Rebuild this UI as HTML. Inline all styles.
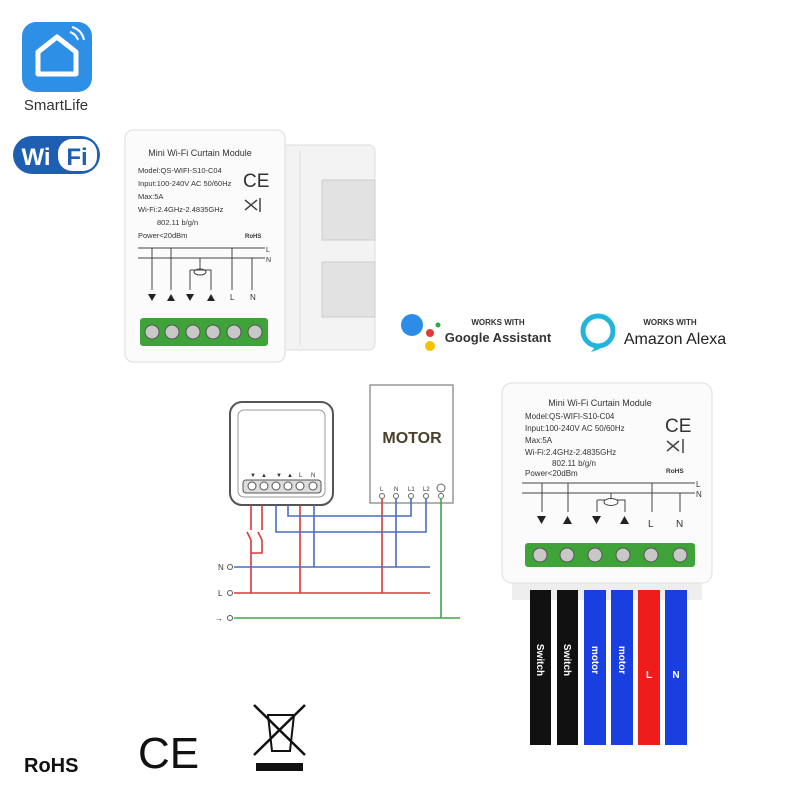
<!DOCTYPE html>
<html><head><meta charset="utf-8"><style>
html,body{margin:0;padding:0;background:#fff;}
svg{display:block;font-family:"Liberation Sans",sans-serif;}
</style></head><body>
<svg width="800" height="800" viewBox="0 0 800 800" xmlns="http://www.w3.org/2000/svg">
<rect width="800" height="800" fill="#fff"/>
<!-- SmartLife -->
<rect x="22" y="22" width="70" height="70" rx="14" fill="#2d8fe6"/>
<path d="M38 52 L57 37 L76 52 L76 74 L38 74 Z" fill="none" stroke="#fff" stroke-width="5" stroke-linejoin="round"/>
<path d="M70 32 q6 2 8 8 M72 27 q10 3 12 13" fill="none" stroke="#fff" stroke-width="2"/>
<text x="56" y="110" font-size="15" text-anchor="middle" fill="#333">SmartLife</text>
<rect x="13" y="136" width="87" height="38" rx="19" fill="#1e5fb4"/>
<rect x="58" y="139" width="39" height="32" rx="14" fill="#fff"/>
<text x="36" y="165" font-size="24" font-weight="bold" fill="#fff" text-anchor="middle">Wi</text>
<text x="77" y="165" font-size="24" font-weight="bold" fill="#1e5fb4" text-anchor="middle">Fi</text>
<!-- Top module -->
<rect x="280" y="145" width="95" height="205" rx="6" fill="#f3f3f3" stroke="#ddd"/>
<path d="M322 180 h53 v60 h-53 z M322 262 h53 v55 h-53 z" fill="#e2e2e2" stroke="#ccc"/>
<path d="M300 150 v195" stroke="#ddd"/>
<rect x="125" y="130" width="160" height="232" rx="8" fill="#fbfbfb" stroke="#ddd"/>
<g font-size="7.5" fill="#333">
<text x="200" y="156" text-anchor="middle" font-size="9">Mini Wi-Fi Curtain Module</text>
<text x="138" y="173">Model:QS-WIFI-S10-C04</text>
<text x="138" y="186">Input:100-240V AC  50/60Hz</text>
<text x="138" y="199">Max:5A</text>
<text x="138" y="212">Wi-Fi:2.4GHz-2.4835GHz</text>
<text x="157" y="225">802.11 b/g/n</text>
<text x="138" y="238">Power&lt;20dBm</text>
<text x="243" y="187" font-size="19">CE</text>
<text x="245" y="238" font-size="6" font-weight="bold">RoHS</text>
<text x="266" y="252" font-size="7">L</text>
<text x="266" y="262" font-size="7">N</text>
<text x="230" y="300" font-size="8">L</text>
<text x="250" y="300" font-size="8">N</text>
</g>
<path d="M245 200 l12 10 M257 200 l-12 10 M260 198 v14" stroke="#444" stroke-width="1.5" fill="none"/>
<path d="M138 248 H265 M138 258 H265 M152 248 V290 M171 248 V290 M200 258 V270 M190 270 H211 V290 M190 270 V290 M232 248 V290 M252 258 V290" stroke="#444" stroke-width="1" fill="none"/>
<ellipse cx="200" cy="272" rx="6" ry="3" fill="none" stroke="#444"/>
<g fill="#222"><path d="M148 294 h8 l-4 7z M167 301 h8 l-4 -7z M186 294 h8 l-4 7z M207 301 h8 l-4 -7z"/></g>
<rect x="140" y="318" width="128" height="28" rx="3" fill="#3fa33a"/>
<g fill="#c8c8c8" stroke="#555"><circle cx="152" cy="332" r="7"/><circle cx="172" cy="332" r="7"/><circle cx="193" cy="332" r="7"/><circle cx="213" cy="332" r="7"/><circle cx="234" cy="332" r="7"/><circle cx="255" cy="332" r="7"/></g>
<!-- Works with -->
<circle cx="412" cy="325" r="11" fill="#2d8ce8"/><circle cx="430" cy="333" r="4" fill="#e53935"/><circle cx="438" cy="325" r="2.5" fill="#2ea84a"/><circle cx="430" cy="346" r="5" fill="#f6c200"/>
<text x="498" y="325" font-size="8" font-weight="bold" text-anchor="middle" fill="#333">WORKS WITH</text>
<text x="498" y="342" font-size="13" font-weight="bold" text-anchor="middle" fill="#333">Google Assistant</text>
<circle cx="598" cy="331" r="15" fill="none" stroke="#22b5dc" stroke-width="5"/>
<path d="M596 346 l-5 6 l9 -3z" fill="#22b5dc"/>
<text x="670" y="325" font-size="8" font-weight="bold" text-anchor="middle" fill="#333">WORKS WITH</text>
<text x="675" y="344" font-size="16" text-anchor="middle" fill="#222">Amazon Alexa</text>
<!-- Wiring diagram small module -->
<rect x="230" y="402" width="103" height="103" rx="12" fill="#fff" stroke="#555" stroke-width="2"/>
<rect x="238" y="410" width="87" height="87" rx="6" fill="none" stroke="#999"/>
<g font-size="6" fill="#333"><text x="250" y="477">▼</text><text x="261" y="477">▲</text><text x="276" y="477">▼</text><text x="287" y="477">▲</text><text x="299" y="477">L</text><text x="311" y="477">N</text></g>
<rect x="243" y="480" width="78" height="13" rx="3" fill="#ddd" stroke="#555"/>
<g fill="#fff" stroke="#555"><circle cx="252" cy="486" r="4"/><circle cx="264" cy="486" r="4"/><circle cx="276" cy="486" r="4"/><circle cx="288" cy="486" r="4"/><circle cx="300" cy="486" r="4"/><circle cx="313" cy="486" r="4"/></g>
<rect x="370" y="385" width="83" height="118" fill="#fff" stroke="#666"/>
<text x="412" y="443" font-size="16" font-weight="bold" text-anchor="middle" fill="#4a3f2a">MOTOR</text>
<g font-size="6" fill="#333"><text x="380" y="491">L</text><text x="394" y="491">N</text><text x="408" y="491">L1</text><text x="423" y="491">L2</text></g>
<g fill="#fff" stroke="#666"><circle cx="382" cy="496" r="2.5"/><circle cx="396" cy="496" r="2.5"/><circle cx="411" cy="496" r="2.5"/><circle cx="426" cy="496" r="2.5"/><circle cx="441" cy="488" r="4"/><circle cx="441" cy="496" r="2.5"/></g>
<g stroke-width="1.6" fill="none">
<path d="M251 505 V530 M262 505 V530 M251 540 V593 M262 540 V553 H251 M300 505 V593 M382 498 V593" stroke="#d9383a"/>
<path d="M247 532 l4 8 M258 532 l4 8" stroke="#d9383a"/>
<path d="M276 505 V532 H396 M288 505 V516 H411 V498 M314 505 V567 M396 498 V567 M426 498 V532 H396" stroke="#4a6cc0"/>
<path d="M234 567 H430" stroke="#4a6cc0"/>
<path d="M234 593 H430" stroke="#d9383a"/>
<path d="M234 618 H460 M441 498 V618" stroke="#3aa84c"/>
</g>
<g font-size="8" fill="#333"><text x="218" y="570">N</text><text x="218" y="596">L</text><text x="215" y="621">→</text></g>
<g fill="#fff" stroke="#555"><circle cx="230" cy="567" r="2.5"/><circle cx="230" cy="593" r="2.5"/><circle cx="230" cy="618" r="2.5"/></g>
<!-- Right module -->
<rect x="512" y="575" width="190" height="25" fill="#eee"/>
<rect x="502" y="383" width="210" height="200" rx="10" fill="#fbfbfb" stroke="#ddd"/>
<g font-size="8" fill="#333">
<text x="600" y="406" text-anchor="middle" font-size="9">Mini Wi-Fi Curtain Module</text>
<text x="525" y="419">Model:QS-WIFI-S10-C04</text>
<text x="525" y="431">Input:100-240V AC  50/60Hz</text>
<text x="525" y="443">Max:5A</text>
<text x="525" y="455">Wi-Fi:2.4GHz-2.4835GHz</text>
<text x="552" y="466">802.11 b/g/n</text>
<text x="525" y="476">Power&lt;20dBm</text>
<text x="665" y="432" font-size="19">CE</text>
<text x="666" y="473" font-size="6.5" font-weight="bold">RoHS</text>
<text x="696" y="487" font-size="8">L</text>
<text x="696" y="497" font-size="8">N</text>
<text x="648" y="527" font-size="10">L</text>
<text x="676" y="527" font-size="10">N</text>
</g>
<path d="M667 441 l12 10 M679 441 l-12 10 M683 439 v14" stroke="#444" stroke-width="1.5" fill="none"/>
<path d="M522 483 H695 M522 493 H695 M542 483 V512 M568 483 V512 M611 493 V500 M597 500 H625 V512 M597 500 V512 M652 483 V512 M680 493 V512" stroke="#444" stroke-width="1" fill="none"/>
<ellipse cx="611" cy="502" rx="7" ry="3.5" fill="#fff" stroke="#444"/>
<g fill="#222"><path d="M537 516 h9 l-4.5 8z M563 524 h9 l-4.5 -8z M592 516 h9 l-4.5 8z M620 524 h9 l-4.5 -8z"/></g>
<rect x="525" y="543" width="170" height="24" rx="3" fill="#3fa33a"/>
<g fill="#c8c8c8" stroke="#555"><circle cx="540" cy="555" r="7"/><circle cx="567" cy="555" r="7"/><circle cx="595" cy="555" r="7"/><circle cx="623" cy="555" r="7"/><circle cx="651" cy="555" r="7"/><circle cx="680" cy="555" r="7"/></g>
<rect x="530" y="590" width="21" height="155" fill="#111"/>
<rect x="557" y="590" width="21" height="155" fill="#111"/>
<rect x="584" y="590" width="22" height="155" fill="#1a3fe0"/>
<rect x="611" y="590" width="22" height="155" fill="#1a3fe0"/>
<rect x="638" y="590" width="22" height="155" fill="#ef1c1c"/>
<rect x="665" y="590" width="22" height="155" fill="#1a3fe0"/>
<g font-size="10" font-weight="bold" fill="#fff">
<text transform="translate(537 660) rotate(90)" text-anchor="middle">Switch</text>
<text transform="translate(564 660) rotate(90)" text-anchor="middle">Switch</text>
<text transform="translate(592 660) rotate(90)" text-anchor="middle">motor</text>
<text transform="translate(619 660) rotate(90)" text-anchor="middle">motor</text>
<text x="649" y="678" text-anchor="middle">L</text>
<text x="676" y="678" text-anchor="middle">N</text>
</g>
<!-- bottom logos -->
<text x="24" y="772" font-size="20" font-weight="bold" fill="#111">RoHS</text>
<text x="138" y="768" font-size="44" fill="#111">CE</text>
<path d="M254 705 L305 755 M305 705 L254 755" stroke="#111" stroke-width="2.5"/>
<path d="M268 715 h26 l-4 36 h-18z" fill="none" stroke="#111" stroke-width="2"/>
<rect x="256" y="763" width="47" height="8" fill="#111"/>
</svg>
</body></html>
